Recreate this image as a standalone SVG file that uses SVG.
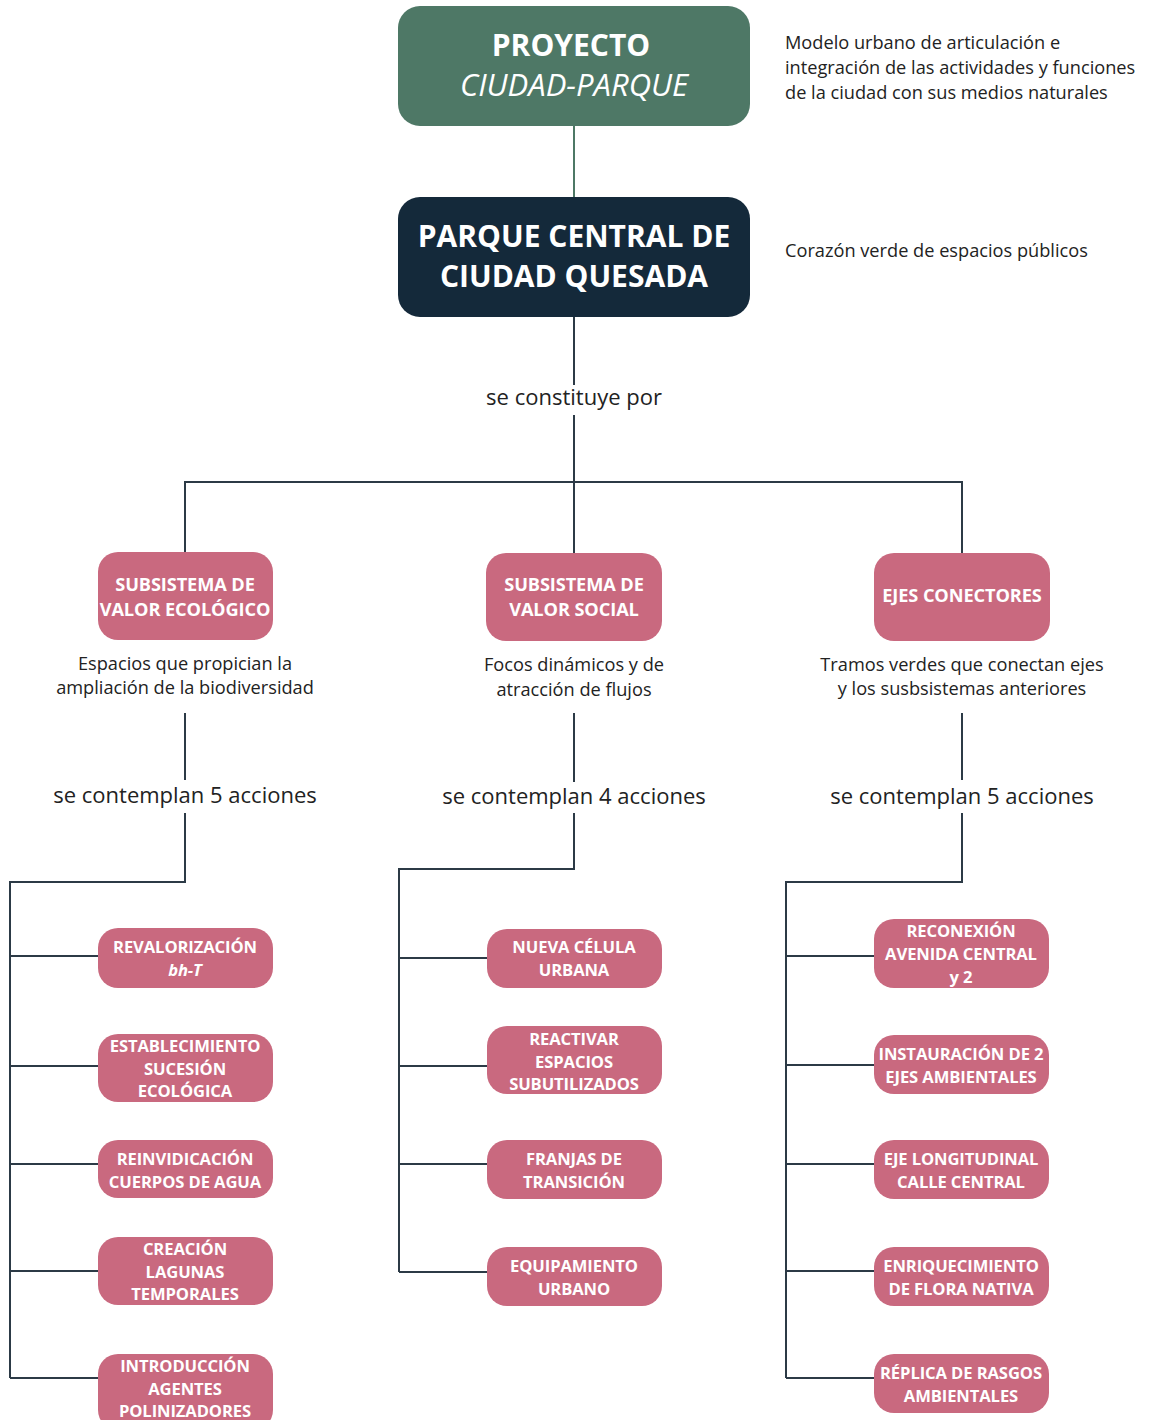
<svg xmlns="http://www.w3.org/2000/svg" width="1149" height="1420" viewBox="0 0 1149 1420">
  <style>
    .conn { fill: none; stroke: #2c3a46; stroke-width: 2; }
    .conn-green { fill: none; stroke: #4e7866; stroke-width: 2; }
    .pink { fill: #c9697f; }
    .t-head { font-family: "Open Sans", "Noto Sans", sans-serif; font-weight: 700; fill: #ffffff; text-anchor: middle; }
    .t-box { font-family: "Open Sans", "Noto Sans", sans-serif; font-weight: 700; font-size: 16.6px; fill: #ffffff; text-anchor: middle; letter-spacing: -0.1px; }
    .t-sub { font-family: "Open Sans", "Noto Sans", sans-serif; font-weight: 700; font-size: 18.2px; fill: #ffffff; text-anchor: middle; letter-spacing: -0.1px; }
    .t-note { font-family: "Open Sans", "Noto Sans", sans-serif; font-size: 18.2px; fill: #222222; }
    .t-desc { font-family: "Open Sans", "Noto Sans", sans-serif; font-size: 18.2px; fill: #222222; text-anchor: middle; }
    .t-rel { font-family: "Open Sans", "Noto Sans", sans-serif; font-size: 22px; fill: #222222; text-anchor: middle; }
  </style>

  <!-- connectors -->
  <g id="connectors">
    <path class="conn-green" d="M574 126 V197"/>
    <path class="conn" d="M574 317 V385 M574 415 V482"/>
    <path class="conn" d="M185 552 V482 H962 V553 M574 482 V553"/>
    <!-- ecological subsystem branch -->
    <path class="conn" d="M185 713 V780 M185 813 V882 H10 V1378"/>
    <path class="conn" d="M10 956 H98 M10 1066 H98 M10 1164 H98 M10 1271 H98 M10 1378 H98"/>
    <!-- social subsystem branch -->
    <path class="conn" d="M574 713 V782 M574 813 V869 H399 V1272"/>
    <path class="conn" d="M399 958 H487 M399 1066 H487 M399 1164 H487 M399 1272 H487"/>
    <!-- connector axes branch -->
    <path class="conn" d="M962 713 V780 M962 813 V882 H786 V1378"/>
    <path class="conn" d="M786 956 H874 M786 1065 H874 M786 1164 H874 M786 1271 H874 M786 1378 H874"/>
  </g>

  <!-- top project node -->
  <g id="proyecto">
    <rect x="398" y="6" width="352" height="120" rx="22" fill="#4e7866"/>
    <text class="t-head" x="571" y="56" font-size="30">PROYECTO</text>
    <text class="t-head" x="574" y="96" font-size="31" font-style="italic" style="font-weight:500">CIUDAD-PARQUE</text>
  </g>
  <g id="nota-proyecto">
    <text class="t-note" x="785" y="49">Modelo urbano de articulación e</text>
    <text class="t-note" x="785" y="74">integración de las actividades y funciones</text>
    <text class="t-note" x="785" y="99">de la ciudad con sus medios naturales</text>
  </g>

  <!-- central park node -->
  <g id="parque-central">
    <rect x="398" y="197" width="352" height="120" rx="22" fill="#14293a"/>
    <text class="t-head" x="574" y="247" font-size="30">PARQUE CENTRAL DE</text>
    <text class="t-head" x="574" y="287" font-size="30">CIUDAD QUESADA</text>
  </g>
  <g id="nota-parque">
    <text class="t-note" x="785" y="257">Corazón verde de espacios públicos</text>
  </g>

  <g id="label-constituye">
    <text class="t-rel" x="574" y="405">se constituye por</text>
  </g>

  <!-- subsystems -->
  <g id="sub-ecologico">
    <rect class="pink" x="98" y="552" width="175" height="88" rx="20"/>
    <text class="t-sub" x="185" y="591">SUBSISTEMA DE</text>
    <text class="t-sub" x="185" y="616">VALOR ECOLÓGICO</text>
    <text class="t-desc" x="185" y="670">Espacios que propician la</text>
    <text class="t-desc" x="185" y="694">ampliación de la biodiversidad</text>
    <text class="t-rel" x="185" y="803">se contemplan 5 acciones</text>
  </g>
  <g id="sub-social">
    <rect class="pink" x="486" y="553" width="176" height="88" rx="20"/>
    <text class="t-sub" x="574" y="591">SUBSISTEMA DE</text>
    <text class="t-sub" x="574" y="616">VALOR SOCIAL</text>
    <text class="t-desc" x="574" y="671">Focos dinámicos y de</text>
    <text class="t-desc" x="574" y="696">atracción de flujos</text>
    <text class="t-rel" x="574" y="804">se contemplan 4 acciones</text>
  </g>
  <g id="ejes-conectores">
    <rect class="pink" x="874" y="553" width="176" height="88" rx="20"/>
    <text class="t-sub" x="962" y="602">EJES CONECTORES</text>
    <text class="t-desc" x="962" y="671">Tramos verdes que conectan ejes</text>
    <text class="t-desc" x="962" y="695">y los susbsistemas anteriores</text>
    <text class="t-rel" x="962" y="804">se contemplan 5 acciones</text>
  </g>

  <!-- ecological actions -->
  <g id="accion-revalorizacion">
    <rect class="pink" x="98" y="928" width="175" height="60" rx="20"/>
    <text class="t-box" x="185" y="953">REVALORIZACIÓN</text>
    <text class="t-box" x="185" y="976" font-style="italic">bh-T</text>
  </g>
  <g id="accion-sucesion">
    <rect class="pink" x="98" y="1034" width="175" height="68" rx="20"/>
    <text class="t-box" x="185" y="1052">ESTABLECIMIENTO</text>
    <text class="t-box" x="185" y="1075">SUCESIÓN</text>
    <text class="t-box" x="185" y="1097">ECOLÓGICA</text>
  </g>
  <g id="accion-agua">
    <rect class="pink" x="98" y="1140" width="175" height="58" rx="20"/>
    <text class="t-box" x="185" y="1165">REINVIDICACIÓN</text>
    <text class="t-box" x="185" y="1188">CUERPOS DE AGUA</text>
  </g>
  <g id="accion-lagunas">
    <rect class="pink" x="98" y="1237" width="175" height="68" rx="20"/>
    <text class="t-box" x="185" y="1255">CREACIÓN</text>
    <text class="t-box" x="185" y="1278">LAGUNAS</text>
    <text class="t-box" x="185" y="1300">TEMPORALES</text>
  </g>
  <g id="accion-polinizadores">
    <rect class="pink" x="98" y="1354" width="175" height="76" rx="20"/>
    <text class="t-box" x="185" y="1372">INTRODUCCIÓN</text>
    <text class="t-box" x="185" y="1395">AGENTES</text>
    <text class="t-box" x="185" y="1417">POLINIZADORES</text>
  </g>

  <!-- social actions -->
  <g id="accion-celula">
    <rect class="pink" x="487" y="929" width="175" height="59" rx="20"/>
    <text class="t-box" x="574" y="953">NUEVA CÉLULA</text>
    <text class="t-box" x="574" y="976">URBANA</text>
  </g>
  <g id="accion-reactivar">
    <rect class="pink" x="487" y="1026" width="175" height="68" rx="20"/>
    <text class="t-box" x="574" y="1045">REACTIVAR</text>
    <text class="t-box" x="574" y="1068">ESPACIOS</text>
    <text class="t-box" x="574" y="1090">SUBUTILIZADOS</text>
  </g>
  <g id="accion-franjas">
    <rect class="pink" x="487" y="1140" width="175" height="59" rx="20"/>
    <text class="t-box" x="574" y="1165">FRANJAS DE</text>
    <text class="t-box" x="574" y="1188">TRANSICIÓN</text>
  </g>
  <g id="accion-equipamiento">
    <rect class="pink" x="487" y="1247" width="175" height="59" rx="20"/>
    <text class="t-box" x="574" y="1272">EQUIPAMIENTO</text>
    <text class="t-box" x="574" y="1295">URBANO</text>
  </g>

  <!-- connector-axis actions -->
  <g id="accion-reconexion">
    <rect class="pink" x="874" y="919" width="175" height="69" rx="20"/>
    <text class="t-box" x="961" y="937">RECONEXIÓN</text>
    <text class="t-box" x="961" y="960">AVENIDA CENTRAL</text>
    <text class="t-box" x="961" y="983">y 2</text>
  </g>
  <g id="accion-ejes-ambientales">
    <rect class="pink" x="874" y="1035" width="175" height="59" rx="20"/>
    <text class="t-box" x="961" y="1060">INSTAURACIÓN DE 2</text>
    <text class="t-box" x="961" y="1083">EJES AMBIENTALES</text>
  </g>
  <g id="accion-eje-longitudinal">
    <rect class="pink" x="874" y="1140" width="175" height="59" rx="20"/>
    <text class="t-box" x="961" y="1165">EJE LONGITUDINAL</text>
    <text class="t-box" x="961" y="1188">CALLE CENTRAL</text>
  </g>
  <g id="accion-flora">
    <rect class="pink" x="874" y="1247" width="175" height="59" rx="20"/>
    <text class="t-box" x="961" y="1272">ENRIQUECIMIENTO</text>
    <text class="t-box" x="961" y="1295">DE FLORA NATIVA</text>
  </g>
  <g id="accion-replica">
    <rect class="pink" x="874" y="1354" width="175" height="59" rx="20"/>
    <text class="t-box" x="961" y="1379">RÉPLICA DE RASGOS</text>
    <text class="t-box" x="961" y="1402">AMBIENTALES</text>
  </g>
</svg>
